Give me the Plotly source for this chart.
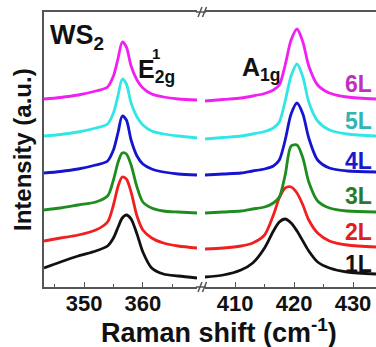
import plotly.graph_objects as go

# ---------------- data ----------------
layers = ["1L", "2L", "3L", "4L", "5L", "6L"]
line_colors = ["#111111", "#f02020", "#1e8c1e", "#1515d0", "#30e6e6", "#f020f0"]
label_colors = ["#111111", "#dd2020", "#2a7a2a", "#1a1acc", "#30b4b4", "#c030c0"]

# E2g region (cm-1)
x_left = [343.2, 346, 349, 352, 354, 355, 355.8, 356.5, 357.2, 358, 359, 360, 361.5, 363.5, 366, 369.2]
# A1g region (cm-1)
x_right = [404.9, 408, 411, 413, 415, 416.5, 417.5, 418.5, 419.5, 420.5, 421.5, 422.5, 424, 426, 429, 433.9]

# offset intensities (a.u.)
y_left = {
    "1L": [19, 25, 31, 36, 41, 49, 60, 69, 72, 68, 53, 35, 19, 13, 11, 9],
    "2L": [46, 49, 52, 57, 65, 82, 101, 110, 108, 95, 71, 57, 49, 44, 41, 39],
    "3L": [77, 79, 82, 85, 91, 107, 125, 134, 133, 122, 100, 85, 79, 76, 75, 74],
    "4L": [114, 115.5, 118, 122, 126, 137, 155, 171, 167, 147, 131, 123, 118, 115, 113, 112],
    "5L": [151, 152.5, 155, 159, 163, 174, 192, 208, 203, 184, 170, 162, 156, 153, 151, 149],
    "6L": [188, 189.5, 192, 196, 200, 211, 229, 245, 240, 221, 207, 199, 193, 190, 188, 187],
}
y_right = {
    "1L": [10, 12, 17, 24, 39, 56, 65, 68, 64, 56, 46, 36, 25, 19, 15, 13],
    "2L": [38, 39, 41, 44, 52, 72, 89, 99, 100, 94, 82, 67, 54, 46, 42, 40],
    "3L": [74, 75, 76, 78, 80, 84, 90, 112, 141, 142, 129, 105, 86, 79, 76, 75],
    "4L": [112, 113, 114, 116, 118, 121, 127, 147, 173, 184, 173, 149, 127, 119, 116, 115],
    "5L": [148, 149.5, 151, 153, 155.5, 159, 165, 186, 211, 223, 210, 185, 166, 157, 153, 151],
    "6L": [186, 187.5, 189, 191, 193.5, 197, 202, 222, 247, 258, 245, 221, 202, 194, 190, 188],
}

left_range = [343.2, 369.2]
right_range = [404.9, 433.9]
y_range = [0, 275]
left_ticks = [350, 360]
right_ticks = [410, 420, 430]

# ---------------- figure ----------------
W, H = 376, 347
ML, MR, MT, MB = 44, 0, 12, 60
PW, PH = W - ML - MR, H - MT - MB


def px(x):
    return (x - ML) / PW


def py(y):
    return (MT + PH - y) / PH


FONT = "Liberation Sans, Arial, sans-serif"
AX = "#555555"

fig = go.Figure()
for i, L in enumerate(layers):
    fig.add_trace(go.Scatter(x=x_left, y=y_left[L], mode="lines", xaxis="x", yaxis="y",
                             line=dict(color=line_colors[i], width=2.8, shape="spline", smoothing=0.8),
                             showlegend=False, hoverinfo="skip"))
    fig.add_trace(go.Scatter(x=x_right, y=y_right[L], mode="lines", xaxis="x2", yaxis="y",
                             line=dict(color=line_colors[i], width=2.8, shape="spline", smoothing=0.8),
                             showlegend=False, hoverinfo="skip"))

xcommon = dict(showline=True, linecolor=AX, linewidth=1.5, mirror=True, showgrid=False, zeroline=False,
               ticks="inside", ticklen=5, tickwidth=1.2, tickcolor=AX, ticklabelstandoff=-4,
               tickfont=dict(family=FONT, size=22, color="#111", weight="bold"),
               minor=dict(ticks="inside", ticklen=3, tickwidth=1, tickcolor=AX, dtick=5, showgrid=False))

fig.update_layout(
    width=W, height=H, margin=dict(l=ML, r=MR, t=MT, b=MB),
    paper_bgcolor="white", plot_bgcolor="white",
    xaxis=dict(domain=[0, px(197)], range=left_range, tickvals=left_ticks, anchor="y", **xcommon),
    xaxis2=dict(domain=[px(205), 1], range=right_range, tickvals=right_ticks, anchor="y", **xcommon),
    yaxis=dict(range=y_range, showline=True, linecolor=AX, linewidth=1.5, mirror=False,
               showticklabels=False, ticks="", showgrid=False, zeroline=False),
)

shapes = []
# spine continuation across the break
for yy in (0, 1):
    shapes.append(dict(type="line", xref="paper", yref="paper", x0=px(196), x1=px(206), y0=yy, y1=yy,
                       line=dict(color=AX, width=1.5)))
# break marks //
for base in (12, 287):
    for x0 in (198, 202.5):
        shapes.append(dict(type="line", xref="paper", yref="paper",
                           x0=px(x0), y0=py(base + 5), x1=px(x0 + 4), y1=py(base - 5),
                           line=dict(color=AX, width=1.5)))
fig.update_layout(shapes=shapes)

ann = []


def text(t, x, y, size, color="#111", xanchor="left", yanchor="middle", angle=0):
    ann.append(dict(text=t, x=px(x), y=py(y), xref="paper", yref="paper", showarrow=False,
                    xanchor=xanchor, yanchor=yanchor, textangle=angle,
                    font=dict(family=FONT, size=size, color=color, weight="bold")))


# panel labels
text("WS<sub>2</sub>", 48, 37, 27)
text("E<sub>2g</sub>", 136, 71, 25)
text("1", 150, 54, 15)
text("A<sub>1g</sub>", 240, 69, 25)

# layer labels
label_y = {"6L": 84, "5L": 121, "4L": 161, "3L": 196, "2L": 232, "1L": 264}
for i, L in enumerate(layers):
    text(L, 343, label_y[L], 23, color=label_colors[i])

# axis titles
text("Intensity (a.u.)", 22, 150, 24, xanchor="center", angle=-90)
text("Raman shift (cm<sup>-1</sup>)", 219, 331, 27, xanchor="center")

fig.update_layout(annotations=ann)
fig.write_html("out.html")
